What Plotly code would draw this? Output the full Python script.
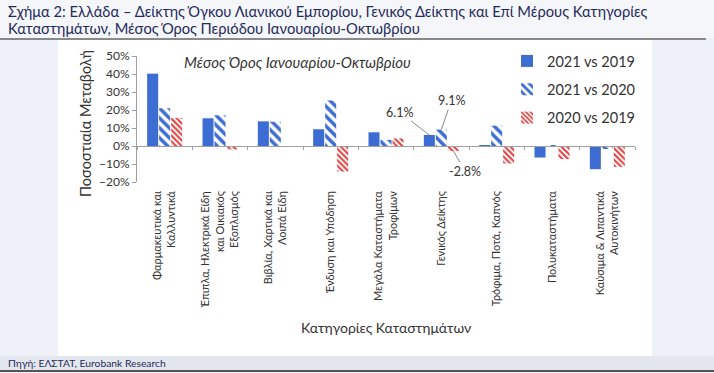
import plotly.graph_objects as go

categories = [
    "Φαρμακευτικά και<br>Καλλυντικά",
    "Έπιπλα, Ηλεκτρικά Είδη<br>και Οικιακός<br>Εξοπλισμός",
    "Βιβλία, Χαρτικά και<br>Λοιπά Είδη",
    "Ένδυση και Υπόδηση",
    "Μεγάλα Καταστήματα<br>Τροφίμων",
    "Γενικός Δείκτης",
    "Τρόφιμα, Ποτά, Καπνός",
    "Πολυκαταστήματα",
    "Καύσιμα & Λιπαντικά<br>Αυτοκινήτων",
]
v_2021_2019 = [0.402, 0.154, 0.137, 0.093, 0.076, 0.061, 0.003, -0.064, -0.129]
v_2021_2020 = [0.210, 0.171, 0.135, 0.253, 0.034, 0.091, 0.113, 0.005, -0.017]
v_2020_2019 = [0.156, -0.019, -0.005, -0.142, 0.042, -0.028, -0.097, -0.073, -0.116]
series_names = ["2021 vs 2019", "2021 vs 2020", "2020 vs 2019"]
y_ticks = [-0.2, -0.1, 0.0, 0.1, 0.2, 0.3, 0.4, 0.5]
title_lines = [
    "Σχήμα 2: Ελλάδα – Δείκτης Όγκου Λιανικού Εμπορίου, Γενικός Δείκτης και Επί Μέρους Κατηγορίες",
    "Καταστημάτων, Μέσος Όρος Περιόδου Ιανουαρίου-Οκτωβρίου",
]

BLUE = "#3D6CD2"
RED = "#E03A3A"
NAVY = "#1F2A5C"
TXT = "#333333"
FONT = "Lato"

W, H = 714, 373
L, R, T, B = 137, 79, 56, 191
PW, PH = W - L - R, H - T - B


def px(x):
    return (x - L) / PW


def py(y):
    return (H - B - y) / PH


fig = go.Figure()
fig.add_trace(go.Bar(
    x=categories, y=v_2021_2019, name=series_names[0], legendgroup="a",
    marker=dict(color=BLUE, line=dict(width=0)),
))
fig.add_trace(go.Bar(
    x=categories, y=v_2021_2020, name=series_names[1], legendgroup="b",
    marker=dict(color=BLUE, line=dict(width=0),
                pattern=dict(shape="\\", fgcolor=BLUE, bgcolor="white",
                             size=7, solidity=0.5, fillmode="replace")),
))
fig.add_trace(go.Bar(
    x=categories, y=v_2020_2019, name=series_names[2], legendgroup="c",
    marker=dict(color=RED, line=dict(width=0),
                pattern=dict(shape="\\", fgcolor=RED, bgcolor="white",
                             size=4, solidity=0.5, fillmode="replace")),
))

bargap = 0.35
slot = (1 - bargap) / 3
gi = categories.index("Γενικός Δείκτης")

annotations = [
    dict(x=gi - slot, y=v_2021_2019[gi], xref="x", yref="y",
         text=f"{v_2021_2019[gi]*100:.1f}%", showarrow=True, arrowhead=0,
         arrowwidth=1, arrowcolor="#888", ax=-30, ay=-23,
         font=dict(size=12.5, color=TXT, family=FONT)),
    dict(x=gi, y=v_2021_2020[gi], xref="x", yref="y",
         text=f"{v_2021_2020[gi]*100:.1f}%", showarrow=True, arrowhead=0,
         arrowwidth=1, arrowcolor="#888", ax=10, ay=-29,
         font=dict(size=12.5, color=TXT, family=FONT)),
    dict(x=gi + slot, y=v_2020_2019[gi], xref="x", yref="y",
         text=f"{v_2020_2019[gi]*100:.1f}%", showarrow=True, arrowhead=0,
         arrowwidth=1, arrowcolor="#888", ax=12, ay=20,
         font=dict(size=12.5, color=TXT, family=FONT)),
    dict(x=px(182), y=py(62), xref="paper", yref="paper", xanchor="left",
         yanchor="middle", showarrow=False,
         text="<i>Μέσος Όρος Ιανουαρίου-Οκτωβρίου</i>",
         font=dict(size=15, color=TXT, family=FONT)),
    dict(x=px(85), y=py(124), xref="paper", yref="paper", textangle=-90,
         xanchor="center", yanchor="middle",
         showarrow=False, text="Ποσοστιαία Μεταβολή",
         font=dict(size=14.5, color=TXT, family=FONT)),
    dict(x=px(386), y=py(327), xref="paper", yref="paper", showarrow=False,
         xanchor="center", yanchor="middle",
         text="Κατηγορίες Καταστημάτων",
         font=dict(size=14, color=TXT, family=FONT)),
    dict(x=px(6), y=py(11), xref="paper", yref="paper", xanchor="left",
         yanchor="middle", showarrow=False, text=title_lines[0],
         font=dict(size=14.7, color=NAVY, family=FONT)),
    dict(x=px(6), y=py(28), xref="paper", yref="paper", xanchor="left",
         yanchor="middle", showarrow=False, text=title_lines[1],
         font=dict(size=14.7, color=NAVY, family=FONT)),
    dict(x=px(6), y=py(363), xref="paper", yref="paper", xanchor="left",
         yanchor="middle", showarrow=False,
         text="Πηγή: ΕΛΣΤΑΤ, Eurobank Research",
         font=dict(size=10.3, color=NAVY, family=FONT)),
]

shapes = [
    dict(type="rect", xref="paper", yref="paper", x0=px(0), x1=px(W),
         y0=py(38), y1=py(0), fillcolor="#F5F6F9", line=dict(width=0), layer="below"),
    dict(type="rect", xref="paper", yref="paper", x0=px(58), x1=px(652),
         y0=py(356), y1=py(40), fillcolor="white", line=dict(width=0), layer="below"),
    dict(type="rect", xref="paper", yref="paper", x0=px(0), x1=px(W),
         y0=py(370), y1=py(356), fillcolor="#E3E7ED", line=dict(width=0), layer="below"),
    dict(type="line", xref="paper", yref="paper", x0=px(0), x1=px(706),
         y0=py(39), y1=py(39), line=dict(color="#666", width=1.5)),
    dict(type="line", xref="paper", yref="paper", x0=px(0), x1=px(W),
         y0=py(371), y1=py(371), line=dict(color="#555", width=2)),
]

fig.update_layout(
    width=W, height=H,
    margin=dict(l=L, r=R, t=T, b=B, autoexpand=False),
    paper_bgcolor="#EEF2F8", plot_bgcolor="rgba(0,0,0,0)",
    barmode="group", bargap=bargap, bargroupgap=0.08,
    font=dict(family=FONT, color=TXT, size=12),
    showlegend=True,
    legend=dict(x=px(507), y=py(45), xanchor="left", yanchor="top",
                bgcolor="rgba(0,0,0,0)", font=dict(size=14.5, color=TXT, family=FONT),
                traceorder="grouped", tracegroupgap=6.5, itemwidth=30),
    annotations=annotations,
    shapes=shapes,
    xaxis=dict(showline=False, ticks="", tickangle=-90, showgrid=False,
               tickfont=dict(size=11, color=TXT, family=FONT),
               ticklabelstandoff=6, automargin=False),
    xaxis2=dict(matches="x", overlaying="x", anchor="free",
                position=(0 - y_ticks[0]) / (y_ticks[-1] - y_ticks[0]),
                showline=True, linecolor="#A0A0A0", linewidth=1,
                ticks="outside", tickson="boundaries", ticklen=3,
                tickcolor="#A0A0A0", showticklabels=False, showgrid=False),
    yaxis=dict(range=[y_ticks[0], y_ticks[-1]], tickvals=y_ticks,
               tickformat=".0%", showgrid=False, zeroline=False,
               showline=True, linecolor="#A0A0A0", linewidth=1,
               ticks="outside", ticklen=4, tickcolor="#A0A0A0",
               tickfont=dict(size=12, color=TXT, family=FONT), automargin=False),
)
fig.add_trace(go.Bar(x=categories, y=[None] * len(categories), xaxis="x2",
                     showlegend=False, hoverinfo="skip"))

fig.write_html("out.html", config={"displayModeBar": False},
               post_script="document.body.style.margin='0px';")
